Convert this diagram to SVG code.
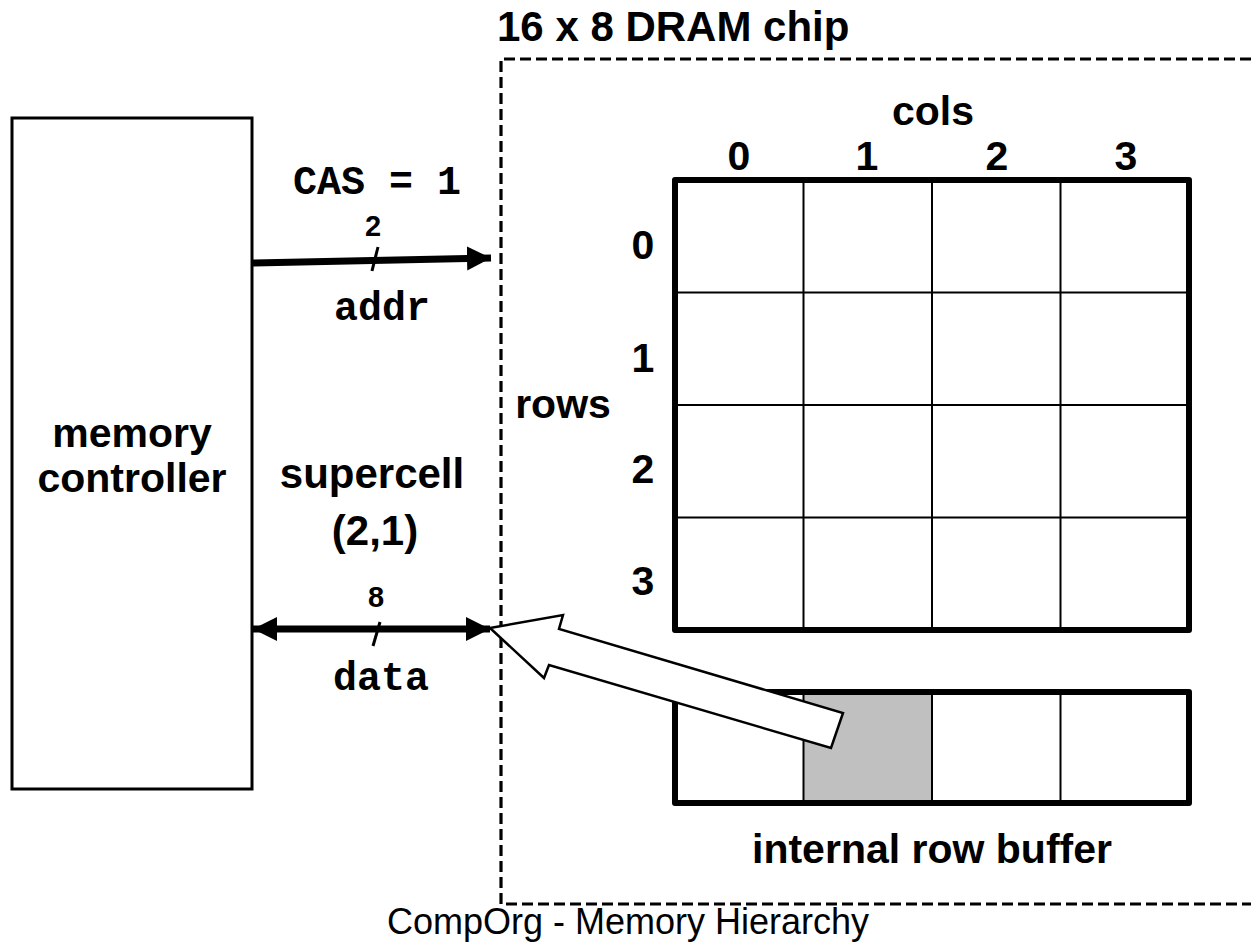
<svg xmlns="http://www.w3.org/2000/svg" width="1251" height="942" viewBox="0 0 1251 942">
<defs>
<style>
.b{font-family:"Liberation Sans",Arial,sans-serif;font-weight:bold;fill:#000}
.m{font-family:"Liberation Mono","Courier New",monospace;font-weight:bold;fill:#000}
.r{font-family:"Liberation Sans",Arial,sans-serif;fill:#000}
.thin{stroke:#000;stroke-width:2;fill:none}
.thick{stroke:#000;stroke-width:6;fill:none;stroke-linejoin:round}
.conn{stroke:#000;stroke-width:7;fill:none}
</style>
<marker id="ah" viewBox="0 0 10 10" refX="10" refY="5" markerUnits="userSpaceOnUse" markerWidth="24" markerHeight="26" orient="auto-start-reverse">
<path d="M0,0 L10,5 L0,10 z" fill="#000"/>
</marker>
</defs>
<rect width="1251" height="942" fill="#fff"/>

<g id="chip-border">
<path d="M1251,59 H501 V904 H1251" fill="none" stroke="#000" stroke-width="3.2" stroke-dasharray="11 5"/>
<text class="b" x="497" y="41" font-size="42">16 x 8 DRAM chip</text>
</g>

<g id="memory-controller">
<rect x="12" y="118" width="240" height="671" fill="#fff" stroke="#000" stroke-width="3"/>
<text class="b" x="132" y="447" font-size="41" text-anchor="middle">memory</text>
<text class="b" x="132" y="492" font-size="41" text-anchor="middle">controller</text>
</g>

<g id="supercell-label">
<text class="b" x="372" y="488" font-size="42" text-anchor="middle">supercell</text>
<text class="b" x="375" y="545" font-size="42" text-anchor="middle">(2,1)</text>
</g>

<g id="dram-array">
<text class="b" x="933" y="125" font-size="41" text-anchor="middle">cols</text>
<text class="b" x="739" y="170" font-size="41" text-anchor="middle">0</text>
<text class="b" x="867" y="170" font-size="41" text-anchor="middle">1</text>
<text class="b" x="997" y="170" font-size="41" text-anchor="middle">2</text>
<text class="b" x="1126" y="170" font-size="41" text-anchor="middle">3</text>
<text class="b" x="563" y="418" font-size="41" text-anchor="middle">rows</text>
<text class="b" x="643" y="259" font-size="41" text-anchor="middle">0</text>
<text class="b" x="643" y="372" font-size="41" text-anchor="middle">1</text>
<text class="b" x="643" y="483" font-size="41" text-anchor="middle">2</text>
<text class="b" x="643" y="595" font-size="41" text-anchor="middle">3</text>
<path class="thin" d="M803.5,180 V630 M932,180 V630 M1060.5,180 V630 M675,292.5 H1189 M675,405 H1189 M675,517.5 H1189"/>
<rect class="thick" x="675" y="180" width="514" height="450"/>
</g>

<g id="row-buffer">
<rect x="803.5" y="692" width="128.5" height="111" fill="#c0c0c0"/>
<path class="thin" d="M803.5,692 V803 M932,692 V803 M1060.5,692 V803"/>
<rect class="thick" x="675" y="692" width="514" height="111"/>
<text class="b" x="932" y="863" font-size="41" text-anchor="middle">internal row buffer</text>
</g>

<g id="connectors">
<g id="addr-bus">
<text class="m" x="377" y="194" font-size="40" text-anchor="middle">CAS = 1</text>
<text class="b" x="373" y="236" font-size="29" text-anchor="middle">2</text>
<line class="conn" x1="253" y1="263" x2="491" y2="258" marker-end="url(#ah)"/>
<line x1="378" y1="247" x2="372" y2="271" stroke="#000" stroke-width="3"/>
<text class="m" x="382" y="320" font-size="40" text-anchor="middle">addr</text>
</g>
<g id="data-bus">
<text class="b" x="376" y="607" font-size="29" text-anchor="middle">8</text>
<line class="conn" x1="253" y1="629" x2="490" y2="629" marker-start="url(#ah)" marker-end="url(#ah)"/>
<line x1="380" y1="622" x2="373" y2="646" stroke="#000" stroke-width="3"/>
<text class="m" x="381" y="690" font-size="40" text-anchor="middle">data</text>
</g>
<polygon id="transfer-arrow" points="490,628 563,615 559,629 843,713 831,748 549,665 544,678" fill="#fff" stroke="#000" stroke-width="2.5" stroke-linejoin="miter"/>
</g>

<text class="r" x="628" y="934" font-size="36" text-anchor="middle">CompOrg - Memory Hierarchy</text>
</svg>
